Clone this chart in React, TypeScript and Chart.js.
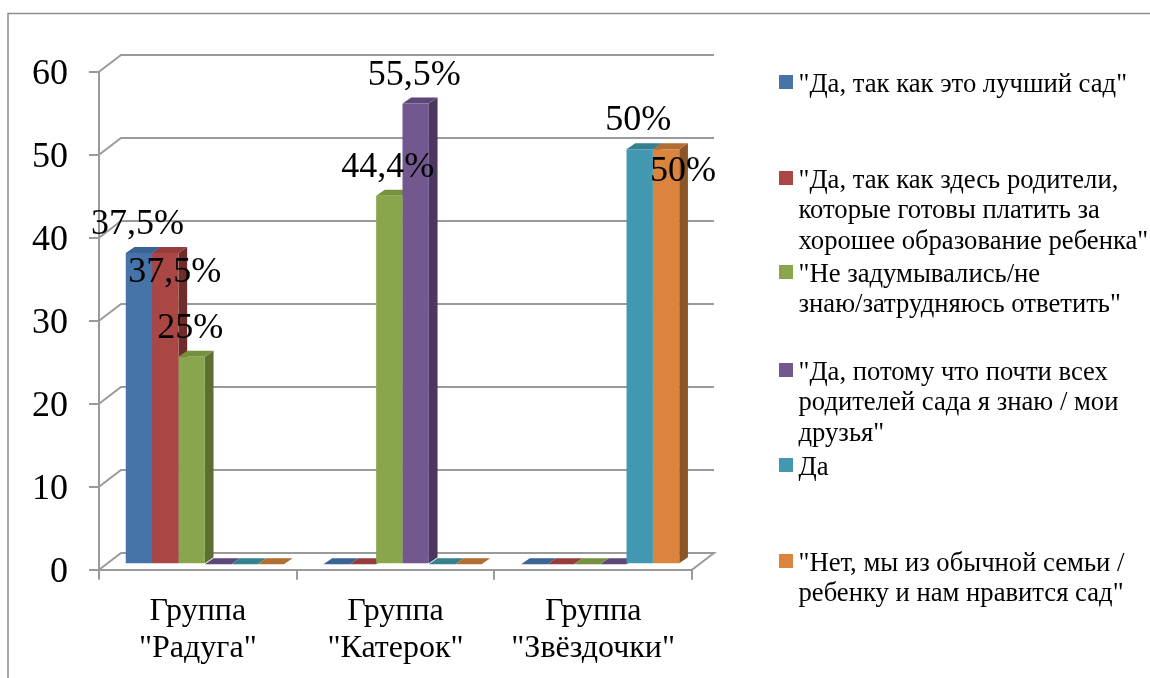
import React, { useEffect, useRef } from "react";
import { Chart, registerables } from "chart.js";

Chart.register(...registerables);

const categories = [["Группа", '"Радуга"'], ["Группа", '"Катерок"'], ["Группа", '"Звёздочки"']];

const seriesBest = [37.5, 0, 0];
const seriesPay = [37.5, 0, 0];
const seriesUnsure = [25, 44.4, 0];
const seriesFriends = [0, 55.5, 0];
const seriesYes = [0, 0, 50];
const seriesNo = [0, 0, 50];

const legendBest = ['"Да, так как это лучший сад"'];
const legendPay = ['"Да, так как здесь родители,', "которые готовы платить за", 'хорошее образование ребенка"'];
const legendUnsure = ['"Не задумывались/не', 'знаю/затрудняюсь ответить"'];
const legendFriends = ['"Да, потому что почти всех', "родителей сада я знаю / мои", 'друзья"'];
const legendYes = ["Да"];
const legendNo = ['"Нет, мы из обычной семьи /', 'ребенку и нам нравится сад"'];

const legendBaselines = [92, 188, 282, 380, 475, 571];

const frontColors = ["#4674A8", "#AA4744", "#8AA64C", "#735890", "#4198B0", "#DB843D"];
const topColors = ["#3A6396", "#963C3A", "#76913E", "#5D4778", "#35808F", "#B26E32"];
const sideColors = ["#2F5078", "#6E2C2A", "#5C6F30", "#4A3860", "#2B6675", "#8A5628"];

const FONT = '"Liberation Serif"';
const GRAY = "#9a9a9a";
const WALL_DX = 22;
const WALL_DY = 16.7;
const BAR_DX = 7;
const BAR_DY = 5.5;
const SIDE_DX = 8.7;
const SIDE_DY = 6;
const Y_LABEL_SHIFT = 2.5;

const wallPlugin = {
  id: "wall",
  beforeDraw(chart: any) {
    const { ctx, chartArea, scales } = chart;
    const yScale = scales.y;
    if (!yScale.__shifted) {
      yScale.__shifted = true;
      const drawLabels = yScale.drawLabels;
      yScale.drawLabels = function (area: any) {
        ctx.save();
        ctx.translate(0, Y_LABEL_SHIFT);
        drawLabels.call(this, area);
        ctx.restore();
      };
    }
    ctx.save();
    ctx.strokeStyle = "#8c8c8c";
    ctx.lineWidth = 1.5;
    ctx.beginPath();
    ctx.moveTo(8, 678);
    ctx.lineTo(8, 13.5);
    ctx.lineTo(1150, 13.5);
    ctx.stroke();

    ctx.strokeStyle = GRAY;
    ctx.lineWidth = 2;
    for (const t of yScale.ticks) {
      const y = yScale.getPixelForValue(t.value);
      ctx.beginPath();
      ctx.moveTo(chartArea.left, y);
      ctx.lineTo(chartArea.left + WALL_DX, y - WALL_DY);
      ctx.lineTo(chartArea.right + WALL_DX, y - WALL_DY);
      if (t.value === 0) ctx.lineTo(chartArea.right, y);
      ctx.stroke();
    }
    ctx.restore();
  },
};

const barDepthPlugin = {
  id: "barDepth",
  beforeDatasetsDraw(chart: any) {
    const { ctx } = chart;
    ctx.save();
    ctx.translate(BAR_DX, -BAR_DY);
    chart.data.datasets.forEach((_: any, d: number) => {
      const meta = chart.getDatasetMeta(d);
      meta.data.forEach((bar: any) => {
        const { x, y, base, width } = bar.getProps(["x", "y", "base", "width"], true);
        const l = x - width / 2;
        const r = x + width / 2;
        if (base - y > 0.5) {
          ctx.fillStyle = sideColors[d];
          ctx.beginPath();
          ctx.moveTo(r, y);
          ctx.lineTo(r + SIDE_DX, y - SIDE_DY);
          ctx.lineTo(r + SIDE_DX, base - SIDE_DY);
          ctx.lineTo(r, base);
          ctx.closePath();
          ctx.fill();
        }
        ctx.fillStyle = topColors[d];
        ctx.beginPath();
        ctx.moveTo(l, y);
        ctx.lineTo(l + SIDE_DX, y - SIDE_DY);
        ctx.lineTo(r + SIDE_DX, y - SIDE_DY);
        ctx.lineTo(r, y);
        ctx.closePath();
        ctx.fill();
      });
    });
  },
  afterDatasetsDraw(chart: any) {
    const { ctx } = chart;
    ctx.restore();
    ctx.save();
    ctx.font = `36px ${FONT}`;
    ctx.fillStyle = "#000";
    ctx.textAlign = "center";
    ctx.textBaseline = "alphabetic";
    chart.data.datasets.forEach((ds: any, d: number) => {
      const meta = chart.getDatasetMeta(d);
      meta.data.forEach((bar: any, i: number) => {
        const v = ds.data[i];
        if (!v) return;
        const { x, y } = bar.getProps(["x", "y"], true);
        const text = `${String(v).replace(".", ",")}%`;
        let dx = -1.5;
        let dy = -19;
        if (d === 1 && i === 0) {
          dx = 9.5;
          dy = 29;
        }
        if (d === 5 && i === 2) {
          dx = 17;
          dy = 32;
        }
        ctx.fillText(text, x + BAR_DX + dx, y - BAR_DY + dy);
      });
    });
    ctx.restore();
  },
};

const legendPlugin = {
  id: "sideLegend",
  afterDraw(chart: any) {
    const { ctx } = chart;
    ctx.save();
    ctx.font = `26.67px ${FONT}`;
    ctx.textAlign = "left";
    ctx.textBaseline = "alphabetic";
    chart.data.datasets.forEach((ds: any, d: number) => {
      const base = legendBaselines[d];
      ctx.fillStyle = frontColors[d];
      ctx.fillRect(779, base - 17, 14, 14);
      ctx.fillStyle = "#000";
      ds.label.forEach((line: string, n: number) => {
        ctx.fillText(line, 798.5, base + n * 30.3);
      });
    });
    ctx.restore();
  },
};

export default function App() {
  const ref = useRef<HTMLCanvasElement>(null);
  useEffect(() => {
    document.body.style.margin = "0";
    document.body.style.background = "#fff";
    const series = [seriesBest, seriesPay, seriesUnsure, seriesFriends, seriesYes, seriesNo];
    const labels = [legendBest, legendPay, legendUnsure, legendFriends, legendYes, legendNo];
    const chart = new Chart(ref.current as HTMLCanvasElement, {
      type: "bar",
      data: {
        labels: categories,
        datasets: series.map((data, i) => ({
          label: labels[i],
          data,
          backgroundColor: frontColors[i],
          borderWidth: 0,
          barPercentage: 1,
          categoryPercentage: 0.8,
          clip: false,
        })),
      } as any,
      options: {
        responsive: false,
        animation: false,
        layout: { padding: { left: 0, top: 71.7, right: 458, bottom: 0 } },
        plugins: { legend: { display: false }, tooltip: { enabled: false }, title: { display: false } },
        scales: {
          x: {
            afterFit: (s: any) => {
              s.height = 108.3;
            },
            grid: { drawOnChartArea: false, offset: true, color: GRAY, lineWidth: 2, tickLength: 10 },
            border: { color: GRAY, width: 2 },
            ticks: {
              font: { family: FONT, size: 32, lineHeight: 1.156 },
              color: "#000",
              maxRotation: 0,
              autoSkip: false,
              padding: 13,
            },
          },
          y: {
            min: 0,
            max: 60,
            afterFit: (s: any) => {
              s.width = 99;
            },
            grid: { drawOnChartArea: false, color: GRAY, lineWidth: 2, tickLength: 10 },
            border: { color: GRAY, width: 2 },
            ticks: {
              stepSize: 10,
              font: { family: FONT, size: 36 },
              color: "#000",
              padding: 21,
            },
          },
        },
      },
      plugins: [wallPlugin, barDepthPlugin, legendPlugin],
    } as any);
    return () => chart.destroy();
  }, []);
  return <canvas ref={ref} width={1150} height={678} style={{ display: "block" }} />;
}
